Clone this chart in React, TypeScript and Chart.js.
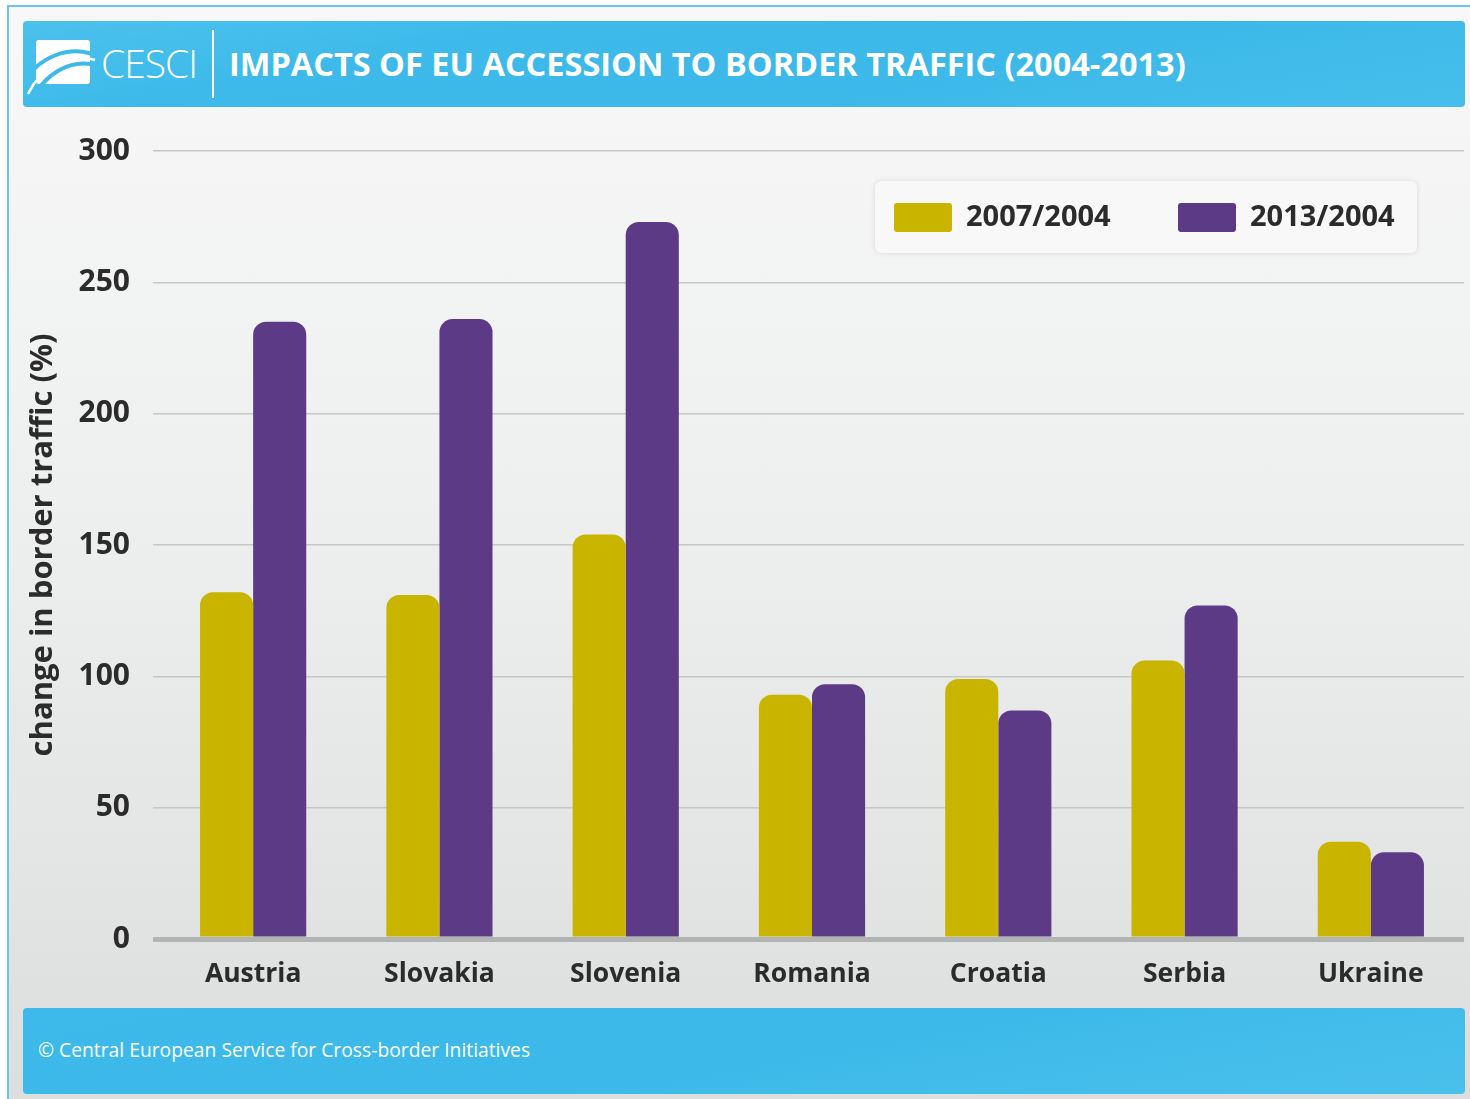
import React, { useEffect, useRef } from "react";
import { Chart, registerables } from "chart.js";

Chart.register(...registerables);

const categories = ["Austria", "Slovakia", "Slovenia", "Romania", "Croatia", "Serbia", "Ukraine"];
const series2007 = [132, 131, 154, 93, 99, 106, 37];
const series2013 = [235, 236, 273, 97, 87, 127, 33];
const seriesLabels = ["2007/2004", "2013/2004"];
const seriesColors = ["#C9B400", "#5D3A86"];
const yTicks = [0, 50, 100, 150, 200, 250, 300];

const FONT = "'Open Sans', 'Noto Sans', sans-serif";

const legendPlugin = {
  id: "boxLegend",
  afterDraw(chart: any) {
    const { ctx, chartArea } = chart;
    const x0 = chartArea.right - 589;
    const y0 = chartArea.top + 30;
    const w = 542;
    const h = 72;
    ctx.save();
    ctx.shadowColor = "rgba(0,0,0,0.12)";
    ctx.shadowBlur = 5;
    ctx.fillStyle = "#f8f8f8";
    ctx.beginPath();
    (ctx as any).roundRect(x0, y0, w, h, 6);
    ctx.fill();
    ctx.restore();
    ctx.save();
    const offsets = [19, 303];
    chart.data.datasets.forEach((ds: any, i: number) => {
      const sx = x0 + offsets[i];
      ctx.fillStyle = ds.backgroundColor;
      ctx.beginPath();
      (ctx as any).roundRect(sx, y0 + 22, 58, 29, 3);
      ctx.fill();
      ctx.fillStyle = "#2b2b2b";
      ctx.font = `700 29px ${FONT}`;
      ctx.textBaseline = "middle";
      ctx.textAlign = "left";
      ctx.fillText(ds.label, sx + 72, y0 + 37);
    });
    ctx.restore();
  },
};

function Logo() {
  return (
    <svg width="70" height="62" viewBox="0 0 70 62" style={{ position: "absolute", left: 4, top: 16 }}>
      <defs>
        <clipPath id="logoClip">
          <rect x="9" y="3" width="54" height="44" rx="3" />
        </clipPath>
      </defs>
      <rect x="9" y="3" width="54" height="44" rx="3" fill="#ffffff" />
      <g clipPath="url(#logoClip)">
        <path d="M-2 44 C 12 20, 42 8, 68 18" stroke="#3DBAEA" strokeWidth="4" fill="none" />
        <path d="M6 62 C 18 36, 44 22, 68 28" stroke="#3DBAEA" strokeWidth="4" fill="none" />
        <path d="M0 62 L0 50 C 6 50, 8 52, 6 62 Z" fill="#3DBAEA" />
      </g>
      <path d="M1 57 C 14 30, 42 15, 68 23" stroke="#ffffff" strokeWidth="2.5" fill="none" />
    </svg>
  );
}

export default function App() {
  const canvasRef = useRef<HTMLCanvasElement | null>(null);

  useEffect(() => {
    document.body.style.margin = "0";
    const canvas = canvasRef.current;
    if (!canvas) return;
    const chart = new Chart(canvas, {
      type: "bar",
      data: {
        labels: categories,
        datasets: [
          {
            label: seriesLabels[0],
            data: series2007,
            backgroundColor: seriesColors[0],
            borderRadius: { topLeft: 13, topRight: 13, bottomLeft: 0, bottomRight: 0 },
            borderSkipped: false,
          },
          {
            label: seriesLabels[1],
            data: series2013,
            backgroundColor: seriesColors[1],
            borderRadius: { topLeft: 13, topRight: 13, bottomLeft: 0, bottomRight: 0 },
            borderSkipped: false,
          },
        ],
      },
      options: {
        animation: false,
        responsive: false,
        maintainAspectRatio: false,
        layout: { padding: { top: 37, left: 15, right: 2, bottom: 0 } },
        datasets: { bar: { categoryPercentage: 0.57, barPercentage: 1.0 } },
        plugins: {
          legend: { display: false },
          tooltip: { enabled: false },
        },
        scales: {
          x: {
            grid: { display: false },
            border: { display: false },
            ticks: {
              color: "#2b2b2b",
              font: { family: FONT, size: 26.5, weight: "bold" },
              padding: 12,
              maxRotation: 0,
            },
            afterFit: (scale: any) => {
              scale.height = 66;
            },
          },
          y: {
            min: 0,
            max: 300,
            afterBuildTicks: (scale: any) => {
              scale.ticks = yTicks.map((v) => ({ value: v }));
            },
            grid: {
              color: (c: any) => (c.tick && c.tick.value === 0 ? "#b2b3b3" : "#c6c7c7"),
              lineWidth: (c: any) => (c.tick && c.tick.value === 0 ? 5 : 1.5),
              tickLength: 7,
              drawTicks: true,
            },
            border: { display: false },
            ticks: {
              color: "#2b2b2b",
              font: { family: FONT, size: 30, weight: "bold" },
              padding: 23,
            },
            title: {
              display: true,
              text: "change in border traffic (%)",
              color: "#2b2b2b",
              font: { family: FONT, size: 31, weight: "bold" },
              padding: 0,
            },
            afterFit: (scale: any) => {
              scale.width = 135;
            },
          },
        },
      },
      plugins: [legendPlugin],
    });
    return () => chart.destroy();
  }, []);

  return (
    <div
      style={{
        position: "absolute",
        left: 0,
        top: 0,
        width: 1470,
        height: 1099,
        overflow: "hidden",
        background: "#ffffff",
        fontFamily: FONT,
      }}
    >
      <div
        style={{
          position: "absolute",
          left: 7,
          top: 5,
          width: 1470,
          height: 1100,
          boxSizing: "border-box",
          border: "2px solid #66c6ee",
          background: "linear-gradient(180deg, #f8f8f8 0%, #eeefef 45%, #dcdddd 100%)",
        }}
      />
      <div
        style={{
          position: "absolute",
          left: 23,
          top: 21,
          width: 1442,
          height: 86,
          borderRadius: 4,
          background: "linear-gradient(170deg, #4cc1ec 0%, #3dbaea 30%, #3cb9e9 60%, #46beeb 100%)",
        }}
      >
        <Logo />
        <div
          style={{
            position: "absolute",
            left: 78,
            top: 17,
            color: "#ffffff",
            fontSize: 39,
            fontWeight: 300,
            letterSpacing: -1,
            lineHeight: "50px",
          }}
        >
          CESCI
        </div>
        <div style={{ position: "absolute", left: 189, top: 9, width: 2, height: 68, background: "#ffffff" }} />
        <div
          style={{
            position: "absolute",
            left: 206,
            top: 21,
            color: "#ffffff",
            fontSize: 32.5,
            fontWeight: 700,
            lineHeight: "44px",
            whiteSpace: "nowrap",
          }}
        >
          IMPACTS OF EU ACCESSION TO BORDER TRAFFIC (2004-2013)
        </div>
      </div>
      <canvas
        ref={canvasRef}
        width={1456}
        height={895}
        style={{ position: "absolute", left: 10, top: 110, width: 1456, height: 895 }}
      />
      <div
        style={{
          position: "absolute",
          left: 23,
          top: 1008,
          width: 1442,
          height: 86,
          borderRadius: 4,
          background: "linear-gradient(170deg, #3dbaea 0%, #3cb9e9 50%, #4ac0ec 100%)",
        }}
      >
        <div
          style={{
            position: "absolute",
            left: 15,
            top: 28,
            color: "#ffffff",
            fontSize: 19.3,
            fontWeight: 400,
            lineHeight: "28px",
            whiteSpace: "nowrap",
          }}
        >
          © Central European Service for Cross-border Initiatives
        </div>
      </div>
    </div>
  );
}
